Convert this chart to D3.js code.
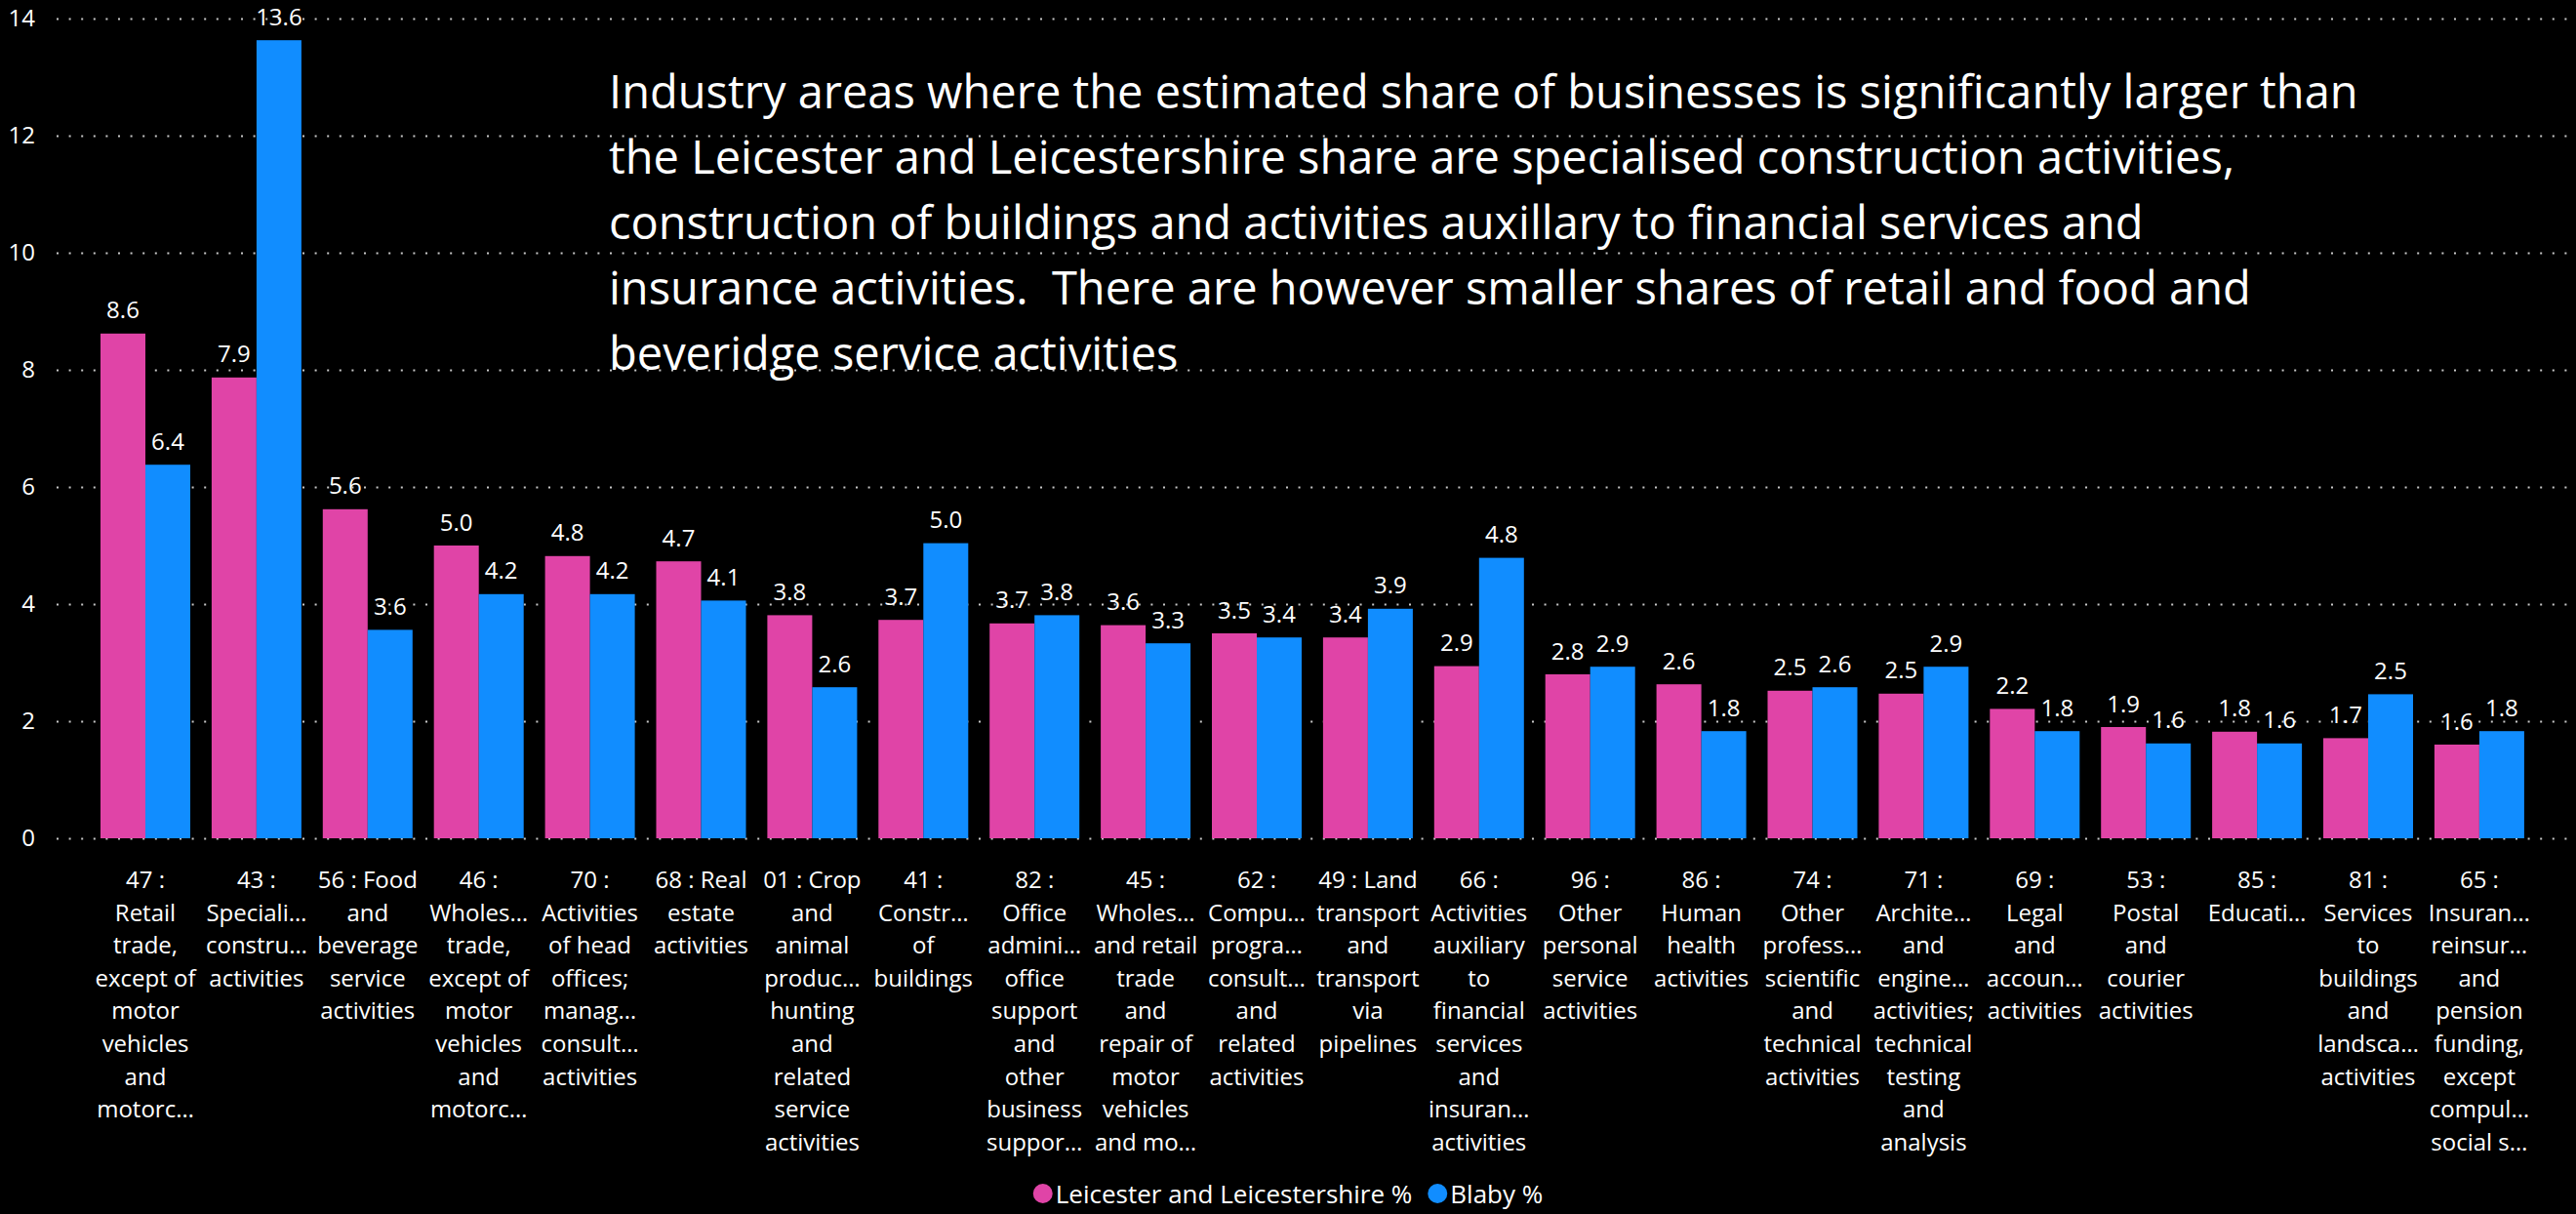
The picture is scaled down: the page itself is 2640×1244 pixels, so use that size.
<!DOCTYPE html>
<html>
<head>
<meta charset="utf-8">
<script src="https://cdn.jsdelivr.net/npm/d3@7"></script>
<style>
  html, body { margin: 0; padding: 0; background: #000; }
  svg { display: block; }
  text { font-family: "Open Sans", "Noto Sans", sans-serif; fill: #fff; }
</style>
</head>
<body>
<svg id="chart" width="2640" height="1244"></svg>
<script>
const categories = ["47","43","56","46","70","68","01","41","82","45","62","49","66","96","86","74","71","69","53","85","81","65"];
const tickLabels = [
  ["47 :", "Retail", "trade,", "except of", "motor", "vehicles", "and", "motorc…"],
  ["43 :", "Speciali…", "constru…", "activities"],
  ["56 : Food", "and", "beverage", "service", "activities"],
  ["46 :", "Wholes…", "trade,", "except of", "motor", "vehicles", "and", "motorc…"],
  ["70 :", "Activities", "of head", "offices;", "manag…", "consult…", "activities"],
  ["68 : Real", "estate", "activities"],
  ["01 : Crop", "and", "animal", "produc…", "hunting", "and", "related", "service", "activities"],
  ["41 :", "Constr…", "of", "buildings"],
  ["82 :", "Office", "admini…", "office", "support", "and", "other", "business", "suppor…"],
  ["45 :", "Wholes…", "and retail", "trade", "and", "repair of", "motor", "vehicles", "and mo…"],
  ["62 :", "Compu…", "progra…", "consult…", "and", "related", "activities"],
  ["49 : Land", "transport", "and", "transport", "via", "pipelines"],
  ["66 :", "Activities", "auxiliary", "to", "financial", "services", "and", "insuran…", "activities"],
  ["96 :", "Other", "personal", "service", "activities"],
  ["86 :", "Human", "health", "activities"],
  ["74 :", "Other", "profess…", "scientific", "and", "technical", "activities"],
  ["71 :", "Archite…", "and", "engine…", "activities;", "technical", "testing", "and", "analysis"],
  ["69 :", "Legal", "and", "accoun…", "activities"],
  ["53 :", "Postal", "and", "courier", "activities"],
  ["85 :", "Educati…"],
  ["81 :", "Services", "to", "buildings", "and", "landsca…", "activities"],
  ["65 :", "Insuran…", "reinsur…", "and", "pension", "funding,", "except", "compul…", "social s…"]
];
const leicesterValues = [8.62, 7.87, 5.62, 5.0, 4.82, 4.73, 3.81, 3.73, 3.67, 3.64, 3.5, 3.43, 2.94, 2.8, 2.63, 2.52, 2.47, 2.21, 1.9, 1.82, 1.71, 1.6];
const blabyValues = [6.38, 13.63, 3.56, 4.17, 4.17, 4.06, 2.58, 5.04, 3.81, 3.33, 3.43, 3.92, 4.79, 2.93, 1.83, 2.58, 2.93, 1.83, 1.62, 1.62, 2.46, 1.83];
const seriesNames = ["Leicester and Leicestershire %", "Blaby %"];
const seriesKeys = ["leic", "blaby"];
const seriesColors = ["#E044A7", "#118DFF"];
const yTicks = [0, 2, 4, 6, 8, 10, 12, 14];
const annotationLines = [
  "Industry areas where the estimated share of businesses is significantly larger than",
  "the Leicester and Leicestershire share are specialised construction activities,",
  "construction of buildings and activities auxillary to financial services and",
  "insurance activities.  There are however smaller shares of retail and food and",
  "beveridge service activities"
];

const data = categories.map((c, i) => ({ cat: c, leic: leicesterValues[i], blaby: blabyValues[i] }));

const svg = d3.select("#chart");
const gridLeft = 58, gridRight = 2632;

const x = d3.scaleBand().domain(categories).range([91.6, 2598.3]).paddingInner(0.1923).paddingOuter(0.1);
const xs = d3.scaleBand().domain(seriesKeys).range([0, x.bandwidth()]).padding(0);
const y = d3.scaleLinear().domain([0, 14]).range([859, 19]);
const color = d3.scaleOrdinal().domain(seriesKeys).range(seriesColors);

// y axis with dotted gridlines
const yAxis = d3.axisLeft(y).tickValues(yTicks).tickFormat(d3.format("d"))
  .tickSizeInner(-(gridRight - gridLeft)).tickSizeOuter(0).tickPadding(22);
const gy = svg.append("g").attr("transform", `translate(${gridLeft},0)`).call(yAxis);
gy.select(".domain").remove();
gy.selectAll(".tick line").attr("stroke", "#c8c8c8").attr("stroke-width", 2).attr("stroke-dasharray", "2 10.6");
gy.selectAll(".tick text").attr("font-size", 24).attr("fill", "#fff").style("font-family", '"Open Sans", sans-serif');

// bars
const groups = svg.append("g").selectAll("g").data(data).join("g")
  .attr("transform", d => `translate(${x(d.cat)},0)`);
groups.selectAll("rect").data(d => seriesKeys.map(k => ({ key: k, value: d[k] }))).join("rect")
  .attr("x", d => xs(d.key)).attr("width", xs.bandwidth())
  .attr("y", d => y(d.value)).attr("height", d => y(0) - y(d.value))
  .attr("fill", d => color(d.key));
groups.selectAll("text.val").data(d => seriesKeys.map(k => ({ key: k, value: d[k] }))).join("text")
  .attr("class", "val")
  .attr("x", d => xs(d.key) + xs.bandwidth() / 2)
  .attr("y", d => y(d.value) - 15.5)
  .attr("text-anchor", "middle").attr("font-size", 24)
  .text(d => d.value.toFixed(1));

// x labels
const xl = svg.append("g").selectAll("text").data(categories).join("text")
  .attr("text-anchor", "middle").attr("font-size", 24)
  .attr("x", d => x(d) + x.bandwidth() / 2).attr("y", 910);
xl.each(function(d, i) {
  d3.select(this).selectAll("tspan").data(tickLabels[i]).join("tspan")
    .attr("x", x(d) + x.bandwidth() / 2)
    .attr("dy", (t, j) => j === 0 ? 0 : 33.6)
    .text(t => t);
});

// annotation text
const ann = svg.append("text").attr("x", 624).attr("y", 111).attr("font-size", 47);
ann.selectAll("tspan").data(annotationLines).join("tspan")
  .attr("x", 624).attr("dy", (t, j) => j === 0 ? 0 : 67).text(t => t)
  .style("white-space", "pre");
ann.attr("xml:space", "preserve");

// legend
const legend = svg.append("g");
let lx = 0;
seriesNames.forEach((name, i) => {
  const item = legend.append("g").attr("transform", `translate(${lx},0)`);
  item.append("circle").attr("cx", 10).attr("cy", 0).attr("r", 10).attr("fill", seriesColors[i]);
  const t = item.append("text").attr("x", 23).attr("y", 9.5).attr("font-size", 26).text(name);
  lx += 23 + t.node().getComputedTextLength() + 16;
});
const legendWidth = lx - 16;
legend.attr("transform", `translate(${1320 - legendWidth / 2},1223)`);
</script>
</body>
</html>
